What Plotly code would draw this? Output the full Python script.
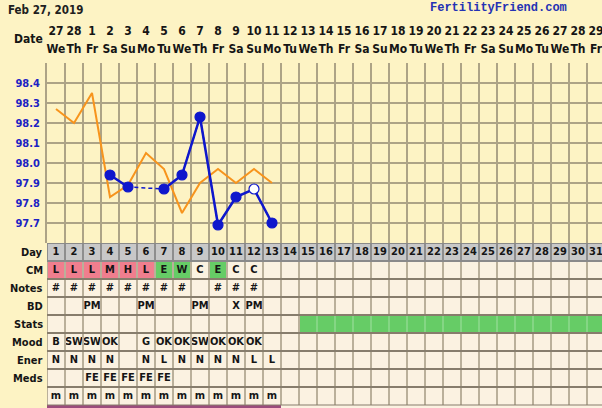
import plotly.graph_objects as go

# ---------------- data ----------------
days = [1, 2, 3, 4, 5, 6, 7, 8, 9, 10, 11, 12, 13, 14, 15, 16, 17, 18, 19, 20,
        21, 22, 23, 24, 25, 26, 27, 28, 29, 30, 31]
date_labels = ['27', '28', '1', '2', '3', '4', '5', '6', '7', '8', '9', '10', '11', '12',
               '13', '14', '15', '16', '17', '18', '19', '20', '21', '22', '23', '24',
               '25', '26', '27', '28', '29']
weekday_labels = ['We', 'Th', 'Fr', 'Sa', 'Su', 'Mo', 'Tu', 'We', 'Th', 'Fr', 'Sa', 'Su',
                  'Mo', 'Tu', 'We', 'Th', 'Fr', 'Sa', 'Su', 'Mo', 'Tu', 'We', 'Th', 'Fr',
                  'Sa', 'Su', 'Mo', 'Tu', 'We', 'Th', 'Fr']
temp_ticks = [97.7, 97.8, 97.9, 98.0, 98.1, 98.2, 98.3, 98.4]

overlay_days = [1, 2, 3, 4, 5, 6, 7, 8, 9, 10, 11, 12, 13]
overlay_temps = [98.27, 98.20, 98.35, 97.83, 97.89, 98.05, 97.97, 97.75, 97.90,
                 97.97, 97.90, 97.97, 97.90]

temp_days = [4, 5, 6, 7, 8, 9, 10, 11, 12, 13]
temp_values = [97.94, 97.88, None, 97.87, 97.94, 98.23, 97.69, 97.83, 97.87, 97.70]
temp_open = [False, False, False, False, False, False, False, False, True, False]

cm_values = ['L', 'L', 'L', 'M', 'H', 'L', 'E', 'W', 'C', 'E', 'C', 'C']
notes_values = ['#', '#', '#', '#', '#', '#', '#', '#', '', '#', '#', '#']
bd_values = ['', '', 'PM', '', '', 'PM', '', '', 'PM', '', 'X', 'PM']
stats_green_days = [15, 16, 17, 18, 19, 20, 21, 22, 23, 24, 25, 26, 27, 28, 29, 30, 31]
mood_values = ['B', 'SW', 'SW', 'OK', '', 'G', 'OK', 'OK', 'SW', 'OK', 'OK', 'OK']
ener_values = ['N', 'N', 'N', 'N', '', 'N', 'L', 'N', 'N', 'N', 'N', 'L', 'L']
meds_values = ['', '', 'FE', 'FE', 'FE', 'FE', 'FE']
m_values = ['m', 'm', 'm', 'm', 'm', 'm', 'm', 'm', 'm', 'm', 'm', 'm', 'm']
cycle_days = 13

row_labels = ['Day', 'CM', 'Notes', 'BD', 'Stats', 'Mood', 'Ener', 'Meds', '']

# ---------------- style ----------------
W, H = 602, 408
LEFT = 47          # px where day columns start
COL = 18           # px per day column
TEMP_TOP, TEMP_BOT = 63, 243
ROW = 18
YELLOW = '#fdf3c4'
CREAM = '#fbf2e1'
GRAY = '#c8c8c8'
PINK = '#f07e8e'
GREEN = '#66cc66'
PURPLE = '#9b4c7c'
GRID = '#ada386'
TGRID_V = '#bab09a'
TGRID_H = '#877d6c'
BLUE = '#0f17cc'
ORANGE = '#f7941d'
FONT = 'DejaVu Sans Condensed, DejaVu Sans, sans-serif'
TXT = '#151515'

x_end = 0.5 + (W - LEFT) / COL
x_dom = [LEFT / W, 1]
n_rows = len(row_labels)
table_range = (H - TEMP_BOT) / ROW

fig = go.Figure()

# ---------------- temperature chart ----------------
fig.add_trace(go.Scatter(x=overlay_days, y=overlay_temps, mode='lines',
                         line=dict(color=ORANGE, width=2), hoverinfo='skip',
                         xaxis='x', yaxis='y'))
fig.add_trace(go.Scatter(x=temp_days, y=temp_values, mode='lines', connectgaps=True,
                         line=dict(color=BLUE, width=1.5, dash='4px,3px'),
                         xaxis='x', yaxis='y', hoverinfo='skip'))
fig.add_trace(go.Scatter(x=temp_days, y=temp_values, mode='lines+markers', connectgaps=False,
                         line=dict(color=BLUE, width=2.5),
                         marker=dict(size=10, color=['white' if o else BLUE for o in temp_open],
                                     line=dict(color=BLUE, width=1.2)),
                         xaxis='x', yaxis='y'))

# ---------------- table cells (heatmap) ----------------
# codes: 0 cream, 1 gray, 2 pink, 3 green, 4 purple
z = []
for r in range(n_rows + 1):
    row = []
    for d in days:
        code = 0
        if r == 0:
            code = 1
        elif r == 1 and d <= len(cm_values):
            v = cm_values[d - 1]
            code = 2 if v in ('L', 'M', 'H') else (3 if v in ('E', 'W') else 0)
        elif r == 4 and d in stats_green_days:
            code = 3
        elif r == n_rows and d <= cycle_days:
            code = 4
        row.append(code)
    z.append(row)
cols = [CREAM, GRAY, PINK, GREEN, PURPLE]
cs = []
for i, c in enumerate(cols):
    cs.append([i / len(cols), c])
    cs.append([(i + 1) / len(cols), c])
fig.add_trace(go.Heatmap(z=z, x=days, y=[r + 0.5 for r in range(n_rows + 1)],
                         colorscale=cs, zmin=-0.5, zmax=len(cols) - 0.5, showscale=False,
                         hoverinfo='skip', xaxis='x2', yaxis='y2'))

# table text
text_rows = [[str(d) for d in days], cm_values, notes_values, bd_values, [],
             mood_values, ener_values, meds_values, m_values]
for r, vals in enumerate(text_rows):
    if not vals:
        continue
    fig.add_trace(go.Scatter(x=days[:len(vals)], y=[r + 0.5] * len(vals), text=vals,
                             mode='text', textposition='middle center', cliponaxis=False,
                             textfont=dict(family=FONT, size=11, color=TXT, weight='bold'),
                             hoverinfo='skip', xaxis='x2', yaxis='y2'))

# header rows (dates / weekdays)
fig.add_trace(go.Scatter(x=days, y=[32] * len(days), text=date_labels, mode='text',
                         cliponaxis=False,
                         textfont=dict(family=FONT, size=12, color=TXT, weight='bold'),
                         hoverinfo='skip', xaxis='x2', yaxis='y3'))
fig.add_trace(go.Scatter(x=days, y=[50] * len(days), text=weekday_labels, mode='text',
                         cliponaxis=False,
                         textfont=dict(family=FONT, size=12, color=TXT, weight='bold'),
                         hoverinfo='skip', xaxis='x2', yaxis='y3'))

# ---------------- table grid lines ----------------
shapes = []
for r in range(n_rows):
    for k in range(len(days)):
        b = 0.5 + k
        left_d, right_d = k, k + 1
        if r == 0:
            c = '#8e8e8e'
        elif r == 4 and left_d in stats_green_days and right_d in stats_green_days:
            c = '#84d684'
        else:
            c = TGRID_V
        shapes.append(dict(type='line', xref='x2', yref='y2', x0=b, x1=b, y0=r, y1=r + 1,
                           line=dict(color=c, width=2), layer='above'))
for r in range(n_rows + 1):
    c = '#8a8a8a' if r <= 1 else TGRID_H
    shapes.append(dict(type='line', xref='x2', yref='y2', x0=0.5, x1=x_end, y0=r, y1=r,
                       line=dict(color=c, width=2 if r < n_rows else 1), layer='above'))

annotations = []
for r, lab in enumerate(row_labels):
    annotations.append(dict(text=lab, xref='paper', yref='y2', x=(LEFT - 2) / W, y=r + 0.5,
                            xanchor='right', yanchor='middle', showarrow=False,
                            font=dict(family=FONT, size=11, color=TXT, weight='bold')))
annotations.append(dict(text='Date', xref='paper', yref='paper', x=(LEFT - 2) / W,
                        y=1 - 39 / H, xanchor='right', yanchor='middle', showarrow=False,
                        font=dict(family=FONT, size=12, color=TXT, weight='bold')))
annotations.append(dict(text='Feb 27, 2019', xref='paper', yref='paper', x=6 / W,
                        y=1 - 10 / H, xanchor='left', yanchor='middle', showarrow=False,
                        font=dict(family=FONT, size=11.5, color='#202020', weight='bold')))
annotations.append(dict(text='FertilityFriend.com', xref='paper', yref='paper', x=498 / W,
                        y=1 - 8 / H, xanchor='center', yanchor='middle', showarrow=False,
                        font=dict(family='Liberation Mono, monospace', size=12,
                                  color='#2432b4', weight='bold')))

hidden = dict(visible=False, showgrid=False, zeroline=False, automargin=False, fixedrange=True)
fig.update_layout(
    template='none',
    width=W, height=H, margin=dict(l=0, r=0, t=0, b=0, pad=0, autoexpand=False),
    paper_bgcolor=YELLOW, plot_bgcolor=YELLOW, showlegend=False,
    shapes=shapes, annotations=annotations,
    xaxis=dict(domain=x_dom, range=[0.5, x_end], anchor='y', showticklabels=False,
               tick0=0.5, dtick=1, showgrid=True, gridcolor=GRID, gridwidth=2,
               zeroline=False, ticks='', fixedrange=True, automargin=False, showline=False),
    yaxis=dict(domain=[1 - TEMP_BOT / H, 1 - TEMP_TOP / H], range=[97.6, 98.5],
               anchor='x', tickvals=temp_ticks, ticktext=[f'{v:.1f}' for v in temp_ticks],
               showgrid=True, gridcolor=GRID, gridwidth=2, zeroline=False,
               showline=True, linecolor=GRID, linewidth=2, ticks='',
               ticklabelstandoff=3, automargin=False, fixedrange=True,
               tickfont=dict(family=FONT, size=11, color='#1c22c4', weight='bold')),
    xaxis2=dict(domain=x_dom, range=[0.5, x_end], anchor='y2', **hidden),
    yaxis2=dict(domain=[0, 1 - TEMP_BOT / H], range=[table_range, 0], anchor='x2', **hidden),
    yaxis3=dict(domain=[1 - TEMP_TOP / H, 1], range=[TEMP_TOP, 0], anchor='x2', **hidden),
)

fig.write_html('out.html', config={'displayModeBar': False},
               post_script="document.body.style.margin='0';document.body.style.overflow='hidden';")
